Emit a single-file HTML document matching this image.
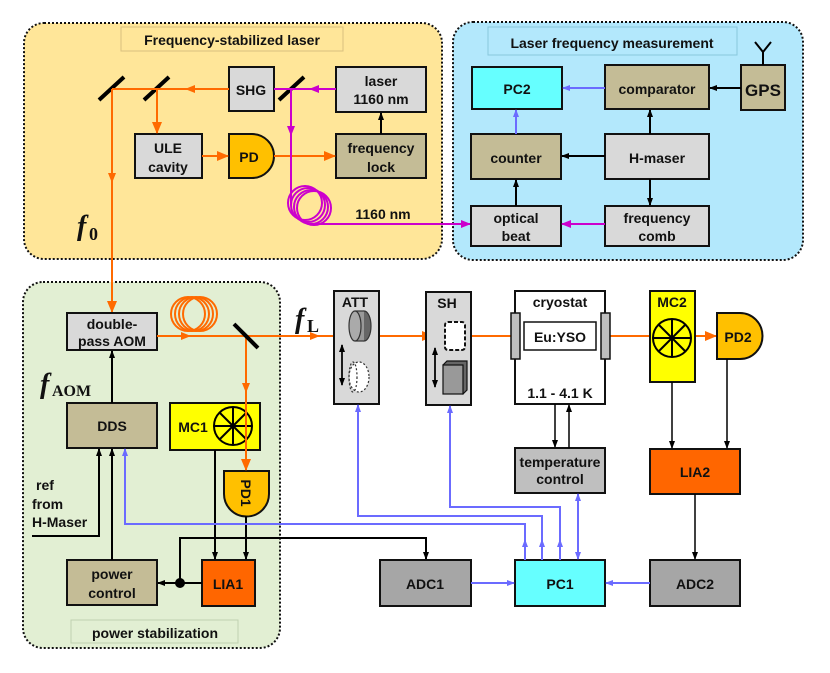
<!DOCTYPE html>
<html><head><meta charset="utf-8"><style>
html,body{margin:0;padding:0;background:#fff}
svg{display:block}
text{font-family:"Liberation Sans",Arial,sans-serif;font-weight:bold;font-size:14px;fill:#111;text-anchor:middle}
.it{font-family:"Liberation Serif",serif;font-style:italic;font-weight:bold}
.sub{font-family:"Liberation Serif",serif;font-weight:bold;font-style:normal}
</style></head><body>
<svg width="830" height="673" viewBox="0 0 830 673" xmlns="http://www.w3.org/2000/svg">
<defs>
<marker id="ab" markerWidth="8" markerHeight="8" refX="7" refY="4" orient="auto" markerUnits="userSpaceOnUse"><path d="M0,1 L8,4 L0,7z" fill="#000"/></marker>
<marker id="ao" markerWidth="12" markerHeight="10" refX="11" refY="5" orient="auto" markerUnits="userSpaceOnUse"><path d="M0,0 L12,5 L0,10z" fill="#ff6a00"/></marker>
<marker id="abl" markerWidth="8" markerHeight="8" refX="7" refY="4" orient="auto" markerUnits="userSpaceOnUse"><path d="M0,1 L8,4 L0,7z" fill="#6b6bff"/></marker>
<marker id="abls" markerWidth="8" markerHeight="8" refX="1" refY="4" orient="auto" markerUnits="userSpaceOnUse"><path d="M8,1 L0,4 L8,7z" fill="#6b6bff"/></marker>
<marker id="am" markerWidth="10" markerHeight="10" refX="9" refY="5" orient="auto" markerUnits="userSpaceOnUse"><path d="M0,1 L10,5 L0,9z" fill="#cc00cc"/></marker>
<marker id="amid" markerWidth="10" markerHeight="10" refX="5" refY="5" orient="auto" markerUnits="userSpaceOnUse"><path d="M0,1 L10,5 L0,9z" fill="#ff6a00"/></marker>
</defs>

<rect x="24" y="23" width="418" height="236" rx="20" fill="#ffe699" stroke="#111" stroke-width="2" stroke-dasharray="2,2"/>
<rect x="121" y="27" width="222" height="24" fill="none" stroke="#d8c080" stroke-width="1"/>
<text x="232" y="45">Frequency-stabilized laser</text>
<rect x="453" y="22" width="350" height="238" rx="20" fill="#b3e8fc" stroke="#111" stroke-width="2" stroke-dasharray="2,2"/>
<rect x="488" y="27" width="249" height="28" fill="none" stroke="#88c8dd" stroke-width="1"/>
<text x="612" y="48">Laser frequency measurement</text>
<rect x="23" y="282" width="257" height="366" rx="20" fill="#e2efd3" stroke="#111" stroke-width="2" stroke-dasharray="2,2"/>
<rect x="71" y="620" width="167" height="23" fill="none" stroke="#c0d0b0" stroke-width="1"/>
<text x="155" y="638">power stabilization</text>

<g stroke="#111" stroke-width="2">
<rect x="229" y="67" width="45" height="44" fill="#d9d9d9"/>
<rect x="336" y="67" width="90" height="45" fill="#d9d9d9"/>
<rect x="135" y="134" width="67" height="44" fill="#d9d9d9"/>
<path d="M229,134 H252 A22,22 0 0 1 252,178 H229 Z" fill="#ffc000"/>
<rect x="336" y="134" width="90" height="44" fill="#c4bc96"/>
</g>
<text x="251" y="95">SHG</text>
<text x="381" y="86">laser</text><text x="381" y="104">1160 nm</text>
<text x="168" y="153">ULE</text><text x="168" y="172">cavity</text>
<text x="249" y="162">PD</text>
<text x="381" y="153">frequency</text><text x="381" y="172">lock</text>
<g stroke="#000" stroke-width="4">
<line x1="99" y1="100" x2="124" y2="77"/><line x1="144" y1="100" x2="169" y2="77"/><line x1="279" y1="100" x2="304" y2="77"/>
</g>
<g stroke="#ff6a00" stroke-width="2" fill="none">
<line x1="229" y1="89" x2="112" y2="89"/>
<line x1="229" y1="89" x2="190" y2="89" marker-end="url(#amid)"/>
<line x1="112" y1="89" x2="112" y2="312" marker-end="url(#ao)"/>
<line x1="112" y1="89" x2="112" y2="178" marker-end="url(#amid)"/>
<line x1="157" y1="89" x2="157" y2="133" marker-end="url(#ao)"/>
<line x1="202" y1="156" x2="228" y2="156" marker-end="url(#ao)"/>
<line x1="274" y1="156" x2="335" y2="156" marker-end="url(#ao)"/>
</g>
<line x1="381" y1="134" x2="381" y2="113" stroke="#000" stroke-width="2" marker-end="url(#ab)"/>
<g stroke="#cc00cc" stroke-width="2" fill="none">
<line x1="336" y1="89" x2="274" y2="89"/>
<line x1="336" y1="89" x2="310" y2="89" marker-end="url(#am)"/>
<path d="M291,89 V205"/>
<line x1="291" y1="89" x2="291" y2="135" marker-end="url(#am)"/>
<circle cx="305" cy="203" r="17"/><circle cx="308" cy="205" r="17"/><circle cx="311" cy="207" r="17"/><circle cx="314" cy="208" r="17"/>
<path d="M312,224 H470" marker-end="url(#am)"/>
</g>
<text x="383" y="219">1160 nm</text>
<text x="77" y="235" class="it" style="font-size:28px;text-anchor:start">f</text>
<text x="89" y="240" class="sub" style="font-size:18px;text-anchor:start">0</text>

<g stroke="#111" stroke-width="2">
<rect x="472" y="67" width="90" height="42" fill="#66ffff"/>
<rect x="605" y="65" width="104" height="44" fill="#c4bc96"/>
<rect x="741" y="65" width="44" height="45" fill="#c4bc96"/>
<rect x="471" y="134" width="90" height="45" fill="#c4bc96"/>
<rect x="605" y="134" width="104" height="45" fill="#d9d9d9"/>
<rect x="471" y="206" width="90" height="40" fill="#d9d9d9"/>
<rect x="605" y="206" width="104" height="40" fill="#d9d9d9"/>
</g>
<text x="517" y="94">PC2</text>
<text x="657" y="94">comparator</text>
<text x="763" y="96" style="font-size:17px">GPS</text>
<text x="516" y="163">counter</text>
<text x="657" y="163">H-maser</text>
<text x="516" y="223">optical</text><text x="516" y="241">beat</text>
<text x="657" y="223">frequency</text><text x="657" y="241">comb</text>
<g stroke="#000" stroke-width="2" fill="none">
<path d="M763,65 V52 M763,52 L755,42 M763,52 L771,42"/>
<line x1="741" y1="88" x2="710" y2="88" marker-end="url(#ab)"/>
<line x1="650" y1="134" x2="650" y2="110" marker-end="url(#ab)"/>
<line x1="605" y1="156" x2="562" y2="156" marker-end="url(#ab)"/>
<line x1="650" y1="179" x2="650" y2="205" marker-end="url(#ab)"/>
<line x1="516" y1="206" x2="516" y2="180" marker-end="url(#ab)"/>
</g>
<g stroke="#6b6bff" stroke-width="2">
<line x1="605" y1="88" x2="563" y2="88" marker-end="url(#abl)"/>
<line x1="516" y1="134" x2="516" y2="110" marker-end="url(#abl)"/>
</g>
<line x1="605" y1="224" x2="562" y2="224" stroke="#cc00cc" stroke-width="2" marker-end="url(#am)"/>

<g stroke="#111" stroke-width="2">
<rect x="67" y="313" width="90" height="37" fill="#d9d9d9"/>
<rect x="67" y="403" width="90" height="45" fill="#c4bc96"/>
<rect x="170" y="403" width="90" height="47" fill="#ffff00"/>
<path d="M224,471 H269 V494 A22.5,22.5 0 0 1 224,494 Z" fill="#ffc000"/>
<rect x="67" y="560" width="90" height="45" fill="#c4bc96"/>
<rect x="202" y="560" width="53" height="46" fill="#ff6600"/>
</g>
<text x="112" y="329">double-</text><text x="112" y="346">pass AOM</text>
<text x="112" y="431">DDS</text>
<text x="193" y="432">MC1</text>
<g stroke="#000" stroke-width="2" fill="none">
<circle cx="233" cy="426" r="19"/>
<path d="M214,426 H252 M233,407 V445 M220,413 L246,439 M246,413 L220,439"/>
</g>
<text x="0" y="0" transform="translate(241,493) rotate(90)">PD1</text>
<text x="112" y="579">power</text><text x="112" y="598">control</text>
<text x="228" y="589">LIA1</text>
<text x="36" y="490" style="text-anchor:start">ref</text>
<text x="32" y="509" style="text-anchor:start">from</text>
<text x="32" y="527" style="text-anchor:start">H-Maser</text>
<text x="40" y="393" class="it" style="font-size:28px;text-anchor:start">f</text>
<text x="52" y="396" class="sub" style="font-size:16px;text-anchor:start">AOM</text>

<g stroke="#000" stroke-width="2" fill="none">
<line x1="112" y1="403" x2="112" y2="351" marker-end="url(#ab)"/>
<path d="M32,536 H99 V449" marker-end="url(#ab)"/>
<line x1="112" y1="560" x2="112" y2="449" marker-end="url(#ab)"/>
<line x1="215" y1="450" x2="215" y2="559" marker-end="url(#ab)"/>
<line x1="246" y1="516" x2="246" y2="559" marker-end="url(#ab)"/>
<line x1="202" y1="583" x2="158" y2="583" marker-end="url(#ab)"/>
<path d="M180,583 V538 H426 V559" marker-end="url(#ab)"/>
</g>
<circle cx="180" cy="583" r="5" fill="#000"/>

<g stroke="#ff6a00" stroke-width="2" fill="none">
<circle cx="188" cy="314" r="17"/><circle cx="192" cy="314" r="17"/><circle cx="196" cy="314" r="17"/><circle cx="200" cy="314" r="17"/>
<line x1="157" y1="336" x2="186" y2="336" marker-end="url(#amid)"/>
<line x1="157" y1="336" x2="612" y2="336"/>
<line x1="157" y1="336" x2="315" y2="336" marker-end="url(#amid)"/>
<line x1="380" y1="336" x2="433" y2="336" marker-end="url(#ao)"/>
<line x1="605" y1="336" x2="716" y2="336" marker-end="url(#ao)"/>
<line x1="246" y1="336" x2="246" y2="470" marker-end="url(#ao)"/>
<line x1="246" y1="336" x2="246" y2="388" marker-end="url(#amid)"/>
</g>
<line x1="234" y1="324" x2="258" y2="348" stroke="#000" stroke-width="4"/>
<text x="295" y="328" class="it" style="font-size:28px;text-anchor:start">f</text>
<text x="307" y="332" class="sub" style="font-size:18px;text-anchor:start">L</text>

<g stroke="#111" stroke-width="2">
<rect x="334" y="291" width="45" height="113" fill="#d9d9d9"/>
<rect x="426" y="292" width="45" height="113" fill="#d9d9d9"/>
<rect x="515" y="291" width="90" height="113" fill="#fff"/>
<rect x="650" y="291" width="45" height="91" fill="#ffff00"/>
<path d="M717,313 H740 A22.5,23 0 0 1 740,359 H717 Z" fill="#ffc000"/>
<rect x="515" y="448" width="90" height="45" fill="#bfbfbf"/>
<rect x="650" y="449" width="90" height="45" fill="#ff6600"/>
<rect x="380" y="560" width="91" height="46" fill="#a6a6a6"/>
<rect x="515" y="560" width="90" height="46" fill="#66ffff"/>
<rect x="650" y="560" width="90" height="46" fill="#a6a6a6"/>
</g>
<g stroke="#111" stroke-width="1.5">
<rect x="511" y="313" width="9" height="46" fill="#bfbfbf"/>
<rect x="601" y="313" width="9" height="46" fill="#bfbfbf"/>
<rect x="524" y="322" width="72" height="28" fill="#fff"/>
</g>
<text x="355" y="307">ATT</text>
<text x="447" y="308">SH</text>
<text x="560" y="307">cryostat</text>
<text x="560" y="342">Eu:YSO</text>
<text x="560" y="398">1.1 - 4.1 K</text>
<text x="672" y="307">MC2</text>
<text x="738" y="342">PD2</text>
<text x="560" y="467">temperature</text><text x="560" y="484">control</text>
<text x="695" y="477">LIA2</text>
<text x="425" y="589">ADC1</text>
<text x="560" y="589">PC1</text>
<text x="695" y="589">ADC2</text>
<g stroke="#333" stroke-width="1.2">
<ellipse cx="364" cy="326" rx="7" ry="15" fill="#666"/>
<rect x="355" y="311" width="9" height="30" fill="#999" stroke="none"/>
<line x1="355" y1="311" x2="364" y2="311"/><line x1="355" y1="341" x2="364" y2="341"/>
<ellipse cx="355" cy="326" rx="6" ry="15" fill="#aaa"/>
<ellipse cx="359" cy="377" rx="10" ry="15" fill="#fff" stroke-dasharray="2,2"/>
<ellipse cx="353" cy="377" rx="4" ry="15" fill="none" stroke-dasharray="2,2"/>
</g>
<rect x="445" y="322" width="20" height="28" rx="3" fill="#fff" stroke="#111" stroke-width="2" stroke-dasharray="4,2"/>
<g stroke="#111" stroke-width="1.2">
<path d="M443,365 L447,361 L467,361 L467,390 L463,394 Z" fill="#666"/>
<rect x="443" y="365" width="20" height="29" fill="#999"/>
</g>
<g stroke="#000" stroke-width="1.5">
<line x1="342" y1="345" x2="342" y2="385" marker-end="url(#ab)"/><line x1="342" y1="385" x2="342" y2="345" marker-end="url(#ab)"/>
<line x1="435" y1="348" x2="435" y2="387" marker-end="url(#ab)"/><line x1="435" y1="387" x2="435" y2="348" marker-end="url(#ab)"/>
</g>
<g stroke="#000" stroke-width="2" fill="none">
<circle cx="672" cy="338" r="19"/>
<path d="M653,338 H691 M672,319 V357 M659,325 L685,351 M685,325 L659,351"/>
</g>
<g stroke="#000" stroke-width="1.5">
<line x1="555" y1="404" x2="555" y2="447" marker-end="url(#ab)"/>
<line x1="569" y1="448" x2="569" y2="405" marker-end="url(#ab)"/>
<line x1="672" y1="382" x2="672" y2="448" marker-end="url(#ab)"/>
<line x1="727" y1="359" x2="727" y2="448" marker-end="url(#ab)"/>
<line x1="695" y1="494" x2="695" y2="559" marker-end="url(#ab)"/>
</g>
<g stroke="#6b6bff" stroke-width="2" fill="none">
<path d="M525,560 V524 H125 V449" marker-end="url(#abl)"/>
<path d="M542,560 V516 H358 V405" marker-end="url(#abl)"/>
<path d="M560,560 V507 H450 V406" marker-end="url(#abl)"/>
<line x1="578" y1="559" x2="578" y2="494" marker-end="url(#abl)" marker-start="url(#abls)"/>
<line x1="471" y1="583" x2="514" y2="583" marker-end="url(#abl)"/>
<line x1="650" y1="583" x2="606" y2="583" marker-end="url(#abl)"/>
<line x1="525" y1="545" x2="525" y2="540" marker-end="url(#abl)"/>
<line x1="542" y1="545" x2="542" y2="540" marker-end="url(#abl)"/>
<line x1="560" y1="545" x2="560" y2="540" marker-end="url(#abl)"/>
</g>
</svg>
</body></html>
